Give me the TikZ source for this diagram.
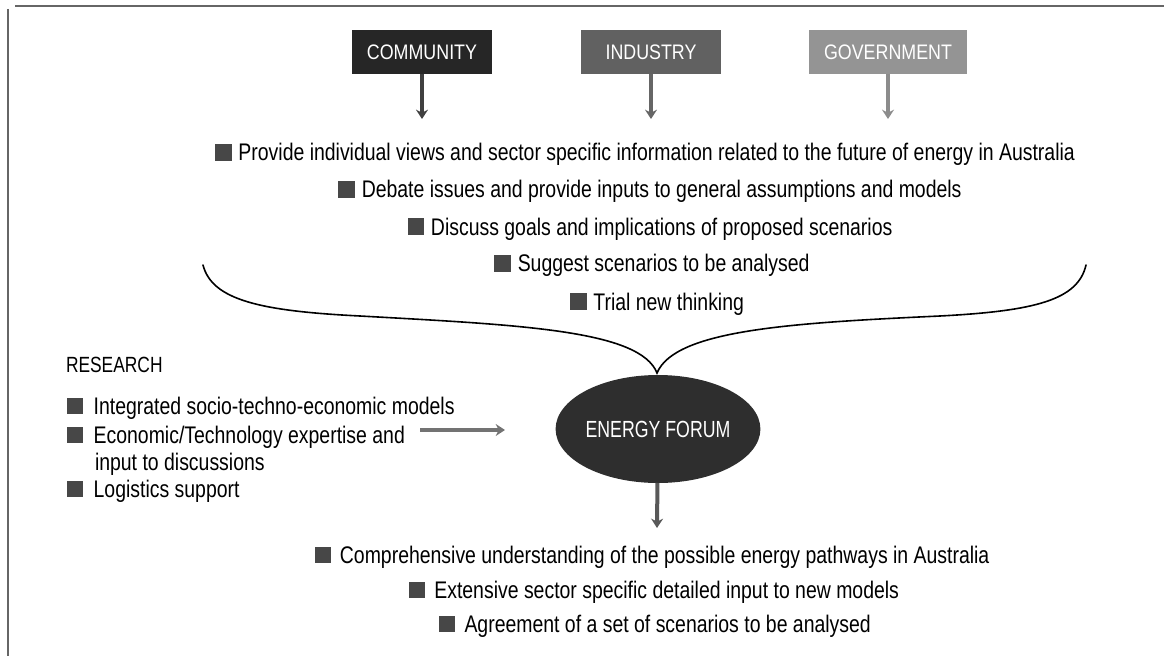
\documentclass[tikz,border=0pt]{standalone}
\usepackage{fontspec}
\setmainfont[FakeStretch=0.81]{Liberation Sans}
\newfontfamily\capfont[FakeStretch=0.85]{Liberation Sans}
\newfontfamily\forumfont[FakeStretch=0.76]{Liberation Sans}
\newfontfamily\resfont[FakeStretch=0.79]{Liberation Sans}
\usetikzlibrary{shapes.geometric,arrows.meta}
\newcommand{\bul}{{\color{black!72}\rule{12.5pt}{12.5pt}}\hspace{5pt}}
\newcommand{\bbul}{{\color{black!72}\rule{12pt}{12pt}}\hspace{7pt}}
\newcommand{\lbul}{{\color{black!72}\rule{12pt}{12pt}}\hspace{8pt}}
\begin{document}
\begin{tikzpicture}[x=0.75pt,y=-0.75pt,
  every node/.style={font=\fontsize{18}{21}\selectfont, inner sep=0pt, outer sep=0pt, text=black},
  txtline/.style={anchor=base},
  lefttxt/.style={anchor=base west},
  sector/.style={minimum height=33pt, text=white, font=\capfont\fontsize{15.75}{19}\selectfont},
  feed/.style={line width=3pt, -{Stealth[length=7pt,width=9pt]}},
  frame/.style={draw=black!60, line width=1pt},
  brace/.style={draw=black, line width=1.2pt, line cap=round}
  ]
\useasboundingbox (0,0) rectangle (1164,656);
% frame
\draw[frame] (15,6) -- (1164,6);
\draw[frame] (8,9) -- (8,656);

% sector boxes
\node[sector, fill=black!85, minimum width=105pt] (com) at (422,52) {COMMUNITY};
\node[sector, fill=black!62, minimum width=105pt] (ind) at (651,52) {INDUSTRY};
\node[sector, fill=black!42, minimum width=118.5pt] (gov) at (888,52) {GOVERNMENT};
\coordinate (comt) at (422,119);
\coordinate (indt) at (651,119);
\coordinate (govt) at (888,119);
\draw[feed, black!75] (com) -- (comt);
\draw[feed, black!60] (ind) -- (indt);
\draw[feed, black!45] (gov) -- (govt);

% top lines
\node[txtline] (t1) at (645,161) {\bul Provide individual views and sector specific information related to the future of energy in Australia};
\node[txtline] (t2) at (650,198) {\bul Debate issues and provide inputs to general assumptions and models};
\node[txtline] (t3) at (650,235) {\bul Discuss goals and implications of proposed scenarios};
\node[txtline] (t4) at (652,272) {\bul Suggest scenarios to be analysed};
\node[txtline] (t5) at (657,310) {\bul Trial new thinking};

% brace
\coordinate (bl) at (203,265);
\coordinate (br) at (1086,265);
\coordinate (cusp) at (657,373);
\draw[brace] (bl) .. controls (212,300) and (260,311) .. (360,316)
  .. controls (520,325) and (640,330) .. (cusp)
  .. controls (675,330) and (790,323) .. (940,316)
  .. controls (1035,311) and (1078,300) .. (br);

% forum
\node[ellipse, fill=black!82, minimum width=150pt, minimum height=81pt, text=white, font=\forumfont\fontsize{17.5}{20}\selectfont] (forum) at (658,429) {ENERGY FORUM};

% research
\node[lefttxt, font=\resfont\fontsize{16.5}{19}\selectfont] (res) at (66,372) {RESEARCH};
\node[lefttxt] (r1) at (67,414) {\lbul Integrated socio-techno-economic models};
\node[lefttxt] (r2) at (67,443) {\lbul Economic/Technology expertise and};
\node[lefttxt] (r2b) at (95,470) {input to discussions};
\node[lefttxt] (r3) at (67,497) {\lbul Logistics support};
\coordinate (ra0) at (420,430);
\coordinate (ra1) at (505,430);
\draw[line width=3pt, black!55, -{Stealth[length=7pt,width=9pt]}] (ra0) -- (ra1);

% output
\coordinate (ft) at (657,528);
\draw[feed, black!65] (forum) -- (ft);
\node[txtline] (b1) at (652,563) {\bbul Comprehensive understanding of the possible energy pathways in Australia};
\node[txtline] (b2) at (654,598) {\bbul Extensive sector specific detailed input to new models};
\node[txtline] (b3) at (655,632) {\bbul Agreement of a set of scenarios to be analysed};
\end{tikzpicture}
\end{document}
